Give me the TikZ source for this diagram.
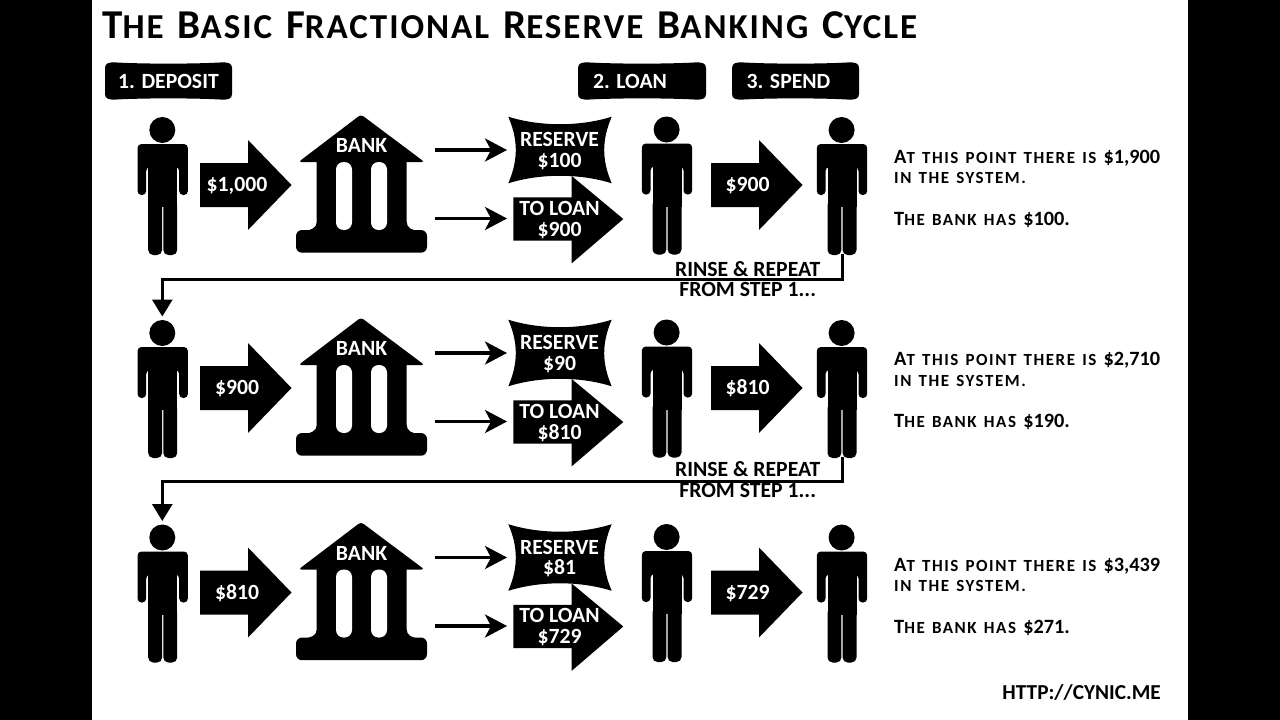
\documentclass[tikz,border=0pt]{standalone}
\usepackage{fontspec}
\setmainfont{Carlito}
\newfontfamily\spaced[LetterSpace=5.6,Ligatures=NoCommon]{Carlito}
\newfontfamily\spacedB[LetterSpace=9,Ligatures=NoCommon]{Carlito}
\usetikzlibrary{arrows.meta}
\newcommand{\ttlC}[1]{{\fontsize{41}{41}\selectfont #1}}
\newcommand{\ttlS}[1]{{\fontsize{35}{35}\selectfont #1}}
\newcommand{\tsp}{\hspace{14pt}}
\newcommand{\noteC}[1]{{\fontsize{20.3}{20}\selectfont #1}}
\newcommand{\noteS}[1]{{\spacedB\bfseries\fontsize{17}{20}\selectfont #1}}
\newcommand{\nsp}{\hspace{7.2pt}}
\tikzset{
  x=1pt,y=-1pt,
  ink/.style={fill=black,draw=none},
  gap/.style={fill=white,draw=none},
  lbl/.style={inner sep=0pt,anchor=base,text=white,font=\bfseries\fontsize{21.7}{21}\selectfont},
  darklbl/.style={inner sep=0pt,anchor=base,text=black,font=\bfseries\fontsize{21.7}{21}\selectfont},
  note/.style={inner sep=0pt,anchor=base west,text=black,font=\bfseries},
  flow/.style={line width=3.4pt,-{Stealth[length=22pt,width=23pt,inset=6pt]}},
  repeatline/.style={line width=3pt,-{Triangle[length=17pt,width=20pt]}},
}
\newcommand{\personicon}[3]{% name, x, y of head centre
  \begin{scope}[shift={(#2,#3)}]
    \fill[ink] (-0.4,0) circle (13);
    \fill[ink,rounded corners=4] (-25.2,65) -- (-25.2,14) -- (25.2,14) -- (25.2,65) -- (16.5,65) -- (16.5,37) -- (-16.5,37) -- (-16.5,65) -- cycle;
    \fill[ink] (-14.5,30) rectangle (14.5,77);
    \fill[ink,rounded corners=5] (-14.5,70) rectangle (-0.6,125);
    \fill[ink,rounded corners=5] (0.6,70) rectangle (14.5,125);
    \coordinate (#1head) at (-0.4,-16.5);
    \coordinate (#1foot) at (0.8,124);
  \end{scope}}
\newcommand{\bigarrow}[2]{% x, cy
  \fill[ink] (#1,#2-22) -- (#1+48,#2-22) -- (#1+48,#2-45) -- (#1+91.5,#2) -- (#1+48,#2+45) -- (#1+48,#2+22) -- (#1,#2+22) -- cycle;}
\newcommand{\bankrow}[6]{% row, dy, deposit, reserve, loan, spend
  \personicon{dep#1}{162.7}{130+#2}
  \personicon{bor#1}{667}{129.5+#2}
  \personicon{spd#1}{842}{130+#2}
  \begin{scope}[shift={(0,#2)}]
    \bigarrow{200}{185}
    \node[lbl] (amtA#1) at (237,191.7) {\$#3};
    % bank
    \fill[ink,rounded corners=3] (298.5,162) -- (361,114.5) -- (424.5,162) -- cycle;
    \fill[ink] (316.7,160) -- (406.7,160) -- (406.7,222) .. controls (406.7,228) and (412,230) .. (418,231) -- (305,231) .. controls (311,230) and (316.7,228) .. (316.7,222) -- cycle;
    \fill[ink,rounded corners=6] (296,230) rectangle (427,252.7);
    \fill[gap,rounded corners=7.5] (336,162) rectangle (352,230);
    \fill[gap,rounded corners=7.5] (371,162) rectangle (387,230);
    \node[lbl] (bank#1) at (361.5,152.7) {BANK};
    % flows
    \coordinate (bankR#1) at (435,150);
    \coordinate (resL#1) at (507,150);
    \coordinate (bankL#1) at (435,218.5);
    \coordinate (loanL#1) at (507,218.5);
    \draw[flow] (bankR#1) -- (resL#1);
    \draw[flow] (bankL#1) -- (loanL#1);
    % reserve
    \fill[ink] (508.3,116.7) .. controls (540,126.7) and (580,126.7) .. (611.7,116.7) .. controls (601.7,140) and (601.7,160) .. (611.7,183.3) .. controls (580,173.3) and (540,173.3) .. (508.3,183.3) .. controls (518.3,160) and (518.3,140) .. (508.3,116.7) -- cycle;
    \node[lbl] (res#1) at (559.5,146.7) {RESERVE};
    \node[lbl] (resv#1) at (559.5,167) {\$#4};
    % to loan
    \fill[ink] (513.3,197.3) -- (571.7,197.3) -- (571.7,176) -- (623.3,219) -- (571.7,263.3) -- (571.7,240.7) -- (513.3,240.7) -- cycle;
    \node[lbl] (toloan#1) at (559.5,215) {TO LOAN};
    \node[lbl] (loanv#1) at (559.5,236) {\$#5};
    \bigarrow{711}{185}
    \node[lbl] (amtB#1) at (747.7,191.7) {\$#6};
  \end{scope}}
\begin{document}
\begin{tikzpicture}
\useasboundingbox (0,0) rectangle (1280,720);
\fill[black] (0,0) rectangle (1280,720);
\fill[white] (92,0) rectangle (1188,720);

\node[inner sep=0pt,anchor=base west,font=\bfseries\spaced] (title) at (102,38.5) {\ttlC{T}\ttlS{HE}\tsp\ttlC{B}\ttlS{ASIC}\tsp\ttlC{F}\ttlS{RACTIONAL}\tsp\ttlC{R}\ttlS{ESERVE}\tsp\ttlC{B}\ttlS{ANKING}\tsp\ttlC{C}\ttlS{YCLE}};

\foreach \tx/\ty/\tz/\tn/\tt in {105/168.5/232/tagA/1. DEPOSIT,578/630/706/tagB/2. LOAN,732/788.5/859/tagC/3. SPEND}{
  \fill[ink] (\tx,68) .. controls (\tx,63) and (\tx+4,62) .. (\tx+12,62.5) .. controls (\tx+40,64) and (\tz-40,64) .. (\tz-12,62.5) .. controls (\tz-4,62) and (\tz,63) .. (\tz,68) -- (\tz,94) .. controls (\tz,99) and (\tz-4,100) .. (\tz-12,99.5) .. controls (\tz-40,98) and (\tx+40,98) .. (\tx+12,99.5) .. controls (\tx+4,100) and (\tx,99) .. (\tx,94) -- cycle;
  \node[lbl] (\tn) at (\ty,88) {\tt};
}

\bankrow{1}{0}{1,000}{100}{900}{900}
\bankrow{2}{203}{900}{90}{810}{810}
\bankrow{3}{407.5}{810}{81}{729}{729}

\coordinate (bendA) at (842.8,279.3);
\coordinate (bendB) at (842.8,481);
\draw[repeatline] (spd1foot) -- (bendA) -| (dep2head);
\draw[repeatline] (spd2foot) -- (bendB) -| (dep3head);

\node[darklbl] (rinseA) at (747.7,276) {RINSE \& REPEAT};
\node[darklbl] (stepA) at (747.7,296.7) {FROM STEP 1...};
\node[darklbl] (rinseB) at (747.7,476) {RINSE \& REPEAT};
\node[darklbl] (stepB) at (747.7,497.5) {FROM STEP 1...};

\newcommand{\lineA}[1]{\noteC{A}\noteS{T}\nsp\noteS{THIS}\nsp\noteS{POINT}\nsp\noteS{THERE}\nsp\noteS{IS}\nsp\noteC{\$#1}}
\newcommand{\lineB}{\noteS{IN}\nsp\noteS{THE}\nsp\noteS{SYSTEM.}}
\newcommand{\lineC}[1]{\noteC{T}\noteS{HE}\nsp\noteS{BANK}\nsp\noteS{HAS}\nsp\noteC{\$#1.}}
\node[note] (n1a) at (894,163.3) {\lineA{1,900}};
\node[note] (n1b) at (894,183.5) {\lineB};
\node[note] (n1c) at (894,225) {\lineC{100}};
\node[note] (n2a) at (894,365) {\lineA{2,710}};
\node[note] (n2b) at (894,386) {\lineB};
\node[note] (n2c) at (894,427.5) {\lineC{190}};
\node[note] (n3a) at (894,571) {\lineA{3,439}};
\node[note] (n3b) at (894,591.7) {\lineB};
\node[note] (n3c) at (894,633.3) {\lineC{271}};

\node[darklbl,anchor=base east,font=\bfseries\fontsize{21.3}{21}\selectfont] (url) at (1161,699.3) {HTTP://CYNIC.ME};
\end{tikzpicture}
\end{document}
